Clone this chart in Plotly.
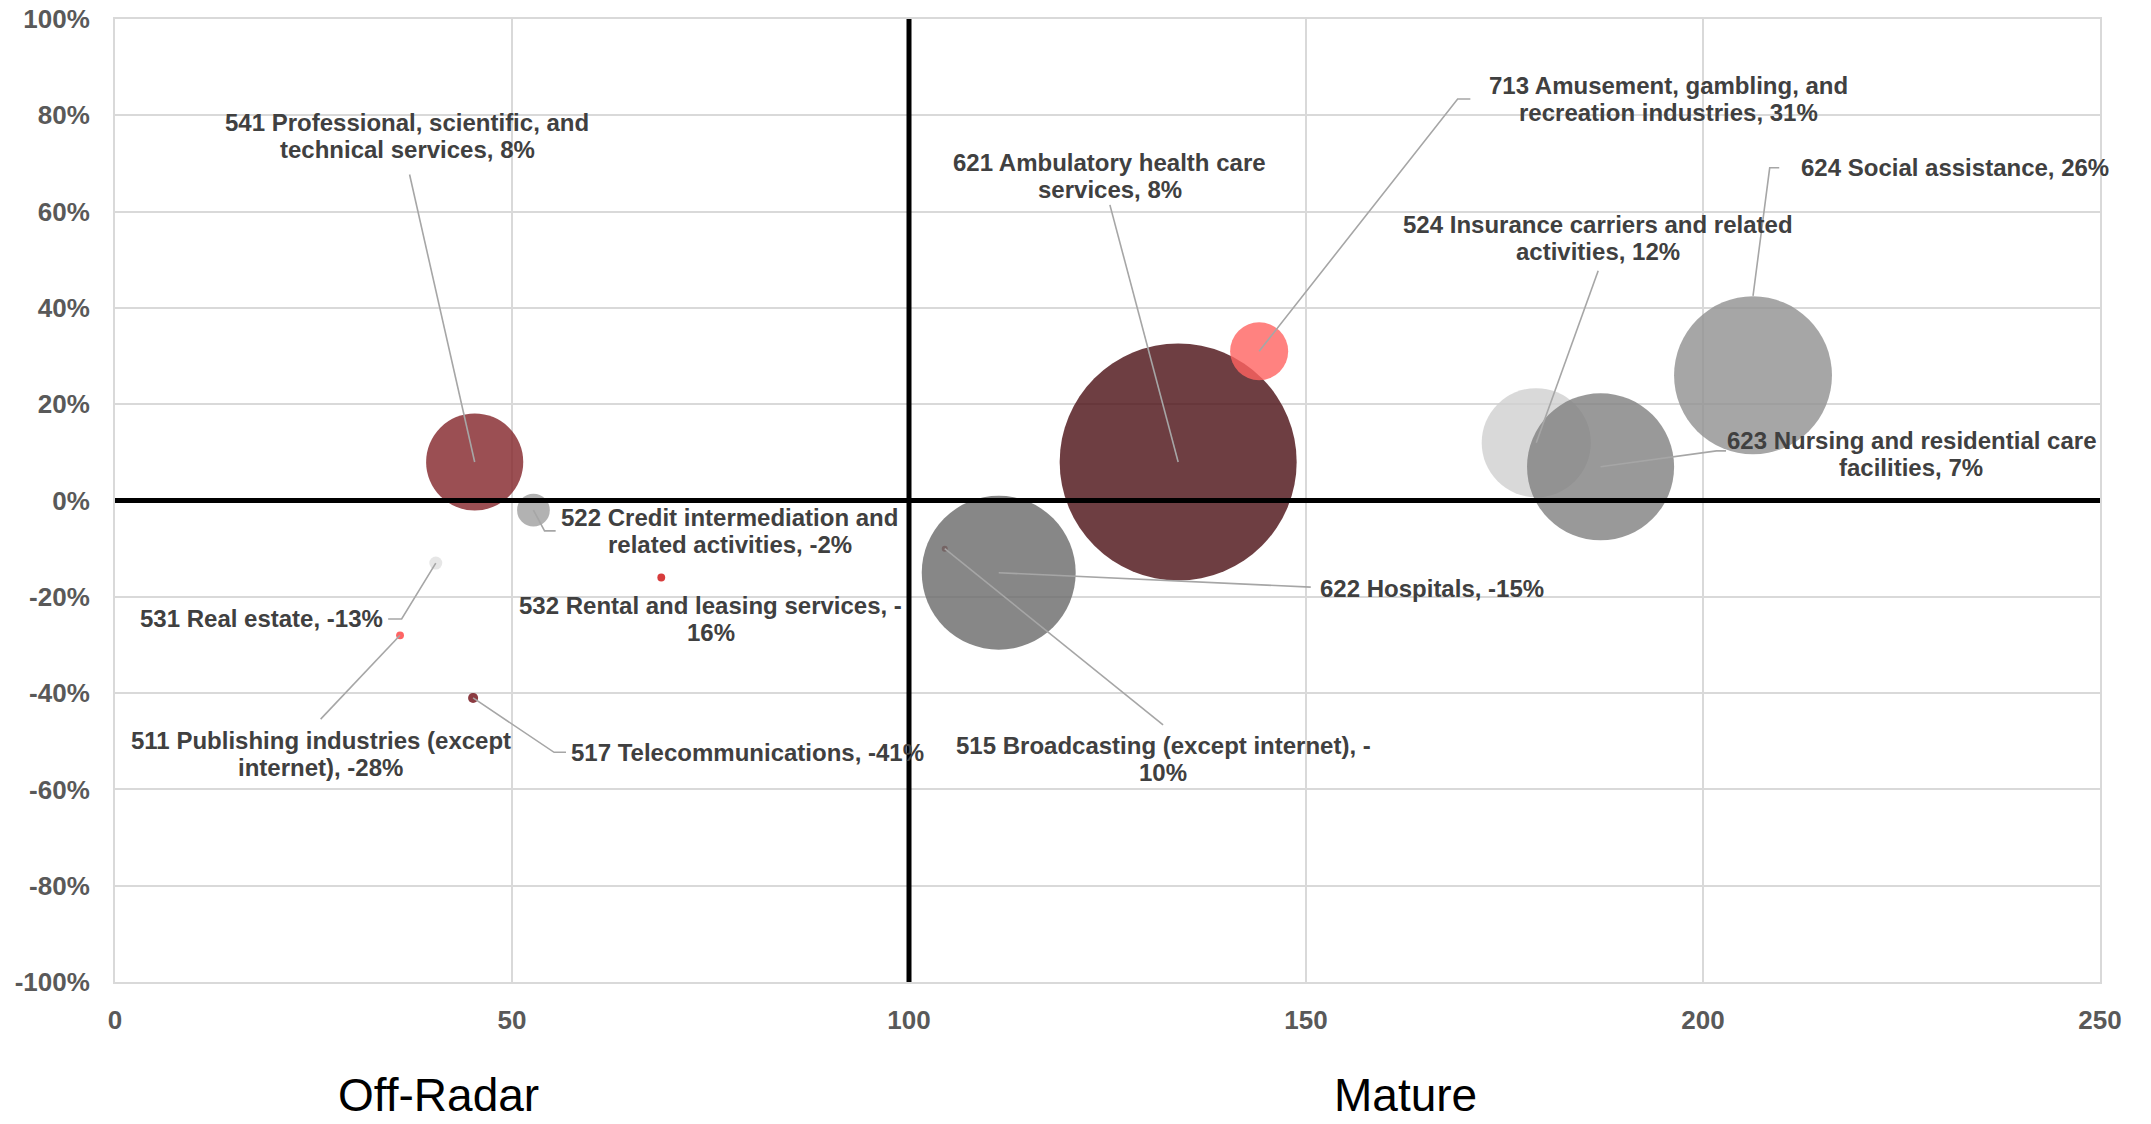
import plotly.graph_objects as go

# Industry bubbles: NAICS code, name, index (x), growth (y), bubble size
codes = ["511", "515", "517", "522", "524", "531", "532", "541",
         "621", "622", "623", "624", "713"]
names = ["Publishing industries (except internet)",
         "Broadcasting (except internet)",
         "Telecommunications",
         "Credit intermediation and related activities",
         "Insurance carriers and related activities",
         "Real estate",
         "Rental and leasing services",
         "Professional, scientific, and technical services",
         "Ambulatory health care services",
         "Hospitals",
         "Nursing and residential care facilities",
         "Social assistance",
         "Amusement, gambling, and recreation industries"]
x_index = [35.9, 104.5, 45.1, 52.7, 179.0, 40.4, 68.8, 45.3,
           133.9, 111.3, 187.1, 206.3, 144.1]
growth = [-0.28, -0.10, -0.41, -0.02, 0.12, -0.13, -0.16, 0.08,
          0.08, -0.15, 0.07, 0.26, 0.31]
bubble_size = [1.1, 0.6, 1.8, 19, 212, 3.0, 1.1, 168,
               1000, 422, 385, 444, 60]

# Quadrant split lines
x_split = 100
y_split = 0

x_ticks = [0, 50, 100, 150, 200, 250]
y_ticks = [-1.0, -0.8, -0.6, -0.4, -0.2, 0.0, 0.2, 0.4, 0.6, 0.8, 1.0]

quadrant_names = ["Off-Radar", "Mature"]

# ---- styling ----
colors = ["rgb(255,61,61)", "rgb(140,40,40)", "rgb(110,10,18)",
          "rgb(159,159,159)", "rgb(208,208,208)", "rgb(224,224,224)",
          "rgb(205,11,11)", "rgb(130,35,40)", "rgb(74,14,19)",
          "rgb(105,105,105)", "rgb(128,128,128)", "rgb(144,144,144)",
          "rgb(255,99,96)"]

# label placement (text centre, data units) and line-break positions
label_x = [25.9, 132.0, 79.6, 77.4, 186.8, 18.5, 75.0, 36.8,
           125.3, 165.9, 226.2, 231.7, 195.6]
label_y = [-0.526, -0.537, -0.523, -0.063, 0.546, -0.246, -0.246, 0.757,
           0.674, -0.183, 0.097, 0.691, 0.834]
label_break = [33, 37, 0, 29, 34, 0, 34, 33, 26, 0, 32, 0, 28]
LINE_GAP = 27  # px between the two lines of a wrapped label

# leader lines: optional short horizontal tick start, elbow point, and an
# end offset (in y) so a line can stop at the bubble rim
leader_tick_x = [None, None, 56.8, 55.5, None, 34.4, None, None,
                 None, None, 202.9, 209.6, 170.7]
leader_x = [25.9, 132.0, 55.3, 54.1, 186.8, 36.1, None, 37.1,
            125.3, 150.6, 201.7, 208.4, 169.1]
leader_y = [-0.454, -0.466, -0.523, -0.063, 0.477, -0.246, None, 0.677,
            0.614, -0.180, 0.103, 0.691, 0.834]
leader_end_dy = [0, 0, 0, 0, 0, 0, 0, 0, 0, 0, 0, 0.165, 0]

FONT = "Arial, Liberation Sans, sans-serif"
max_diam = 237

fig = go.Figure()
fig.add_trace(go.Scatter(
    x=x_index, y=growth, mode="markers",
    marker=dict(
        size=bubble_size, sizemode="area",
        sizeref=2.0 * max(bubble_size) / (max_diam ** 2), sizemin=3,
        color=colors, opacity=0.8, line=dict(width=0),
    ),
    hovertext=[f"{c} {n}" for c, n in zip(codes, names)],
    hoverinfo="text",
    showlegend=False,
))

# leader lines drawn over the bubbles
for i in range(len(codes)):
    if leader_x[i] is None:
        continue
    xs, ys = [], []
    if leader_tick_x[i] is not None:
        xs.append(leader_tick_x[i])
        ys.append(leader_y[i])
    xs += [leader_x[i], x_index[i]]
    ys += [leader_y[i], growth[i] + leader_end_dy[i]]
    fig.add_trace(go.Scatter(
        x=xs, y=ys, mode="lines",
        line=dict(color="#A6A6A6", width=1.6),
        hoverinfo="skip", showlegend=False,
    ))

label_font = dict(family=FONT, size=24, color="#404040", weight="bold")
annotations = []
for i in range(len(codes)):
    full = f"{codes[i]} {names[i]}, {growth[i]:.0%}"
    b = label_break[i]
    if b == 0:
        lines = [(full, 0)]
    else:
        lines = [(full[:b].rstrip(), LINE_GAP / 2),
                 (full[b:].lstrip(), -LINE_GAP / 2)]
    for txt, shift in lines:
        annotations.append(dict(
            x=label_x[i], y=label_y[i], xref="x", yref="y", yshift=shift,
            text=txt, showarrow=False, align="center", font=label_font,
        ))

for name, px in zip(quadrant_names, [0.163, 0.650]):
    annotations.append(dict(
        x=px, y=-0.1173, xref="paper", yref="paper",
        xanchor="center", yanchor="middle", text=name, showarrow=False,
        font=dict(family=FONT, size=46, color="#000000"),
    ))

fig.update_layout(
    width=2151, height=1124,
    margin=dict(l=115, r=51, t=19, b=142),
    paper_bgcolor="white", plot_bgcolor="white",
    annotations=annotations,
    shapes=[
        dict(type="line", xref="x", yref="y", x0=x_split, x1=x_split,
             y0=-1, y1=1, line=dict(color="black", width=5), layer="above"),
        dict(type="line", xref="x", yref="y", x0=0, x1=250,
             y0=y_split, y1=y_split, line=dict(color="black", width=5),
             layer="above"),
    ],
    xaxis=dict(
        range=[0, 250], tickvals=x_ticks, ticktext=[str(v) for v in x_ticks],
        showgrid=True, gridcolor="#D9D9D9", gridwidth=2,
        showline=True, linecolor="#D9D9D9", linewidth=2, mirror=True,
        zeroline=False, ticks="", ticklabelstandoff=14, automargin=False,
        tickfont=dict(family=FONT, size=26, color="#595959", weight="bold"),
    ),
    yaxis=dict(
        range=[-1, 1], tickvals=y_ticks,
        ticktext=[f"{v:.0%}" for v in y_ticks],
        showgrid=True, gridcolor="#D9D9D9", gridwidth=2,
        showline=True, linecolor="#D9D9D9", linewidth=2, mirror=True,
        zeroline=False, ticks="", ticklabelstandoff=18, automargin=False,
        tickfont=dict(family=FONT, size=26, color="#595959", weight="bold"),
    ),
)

fig.write_html("out.html")
